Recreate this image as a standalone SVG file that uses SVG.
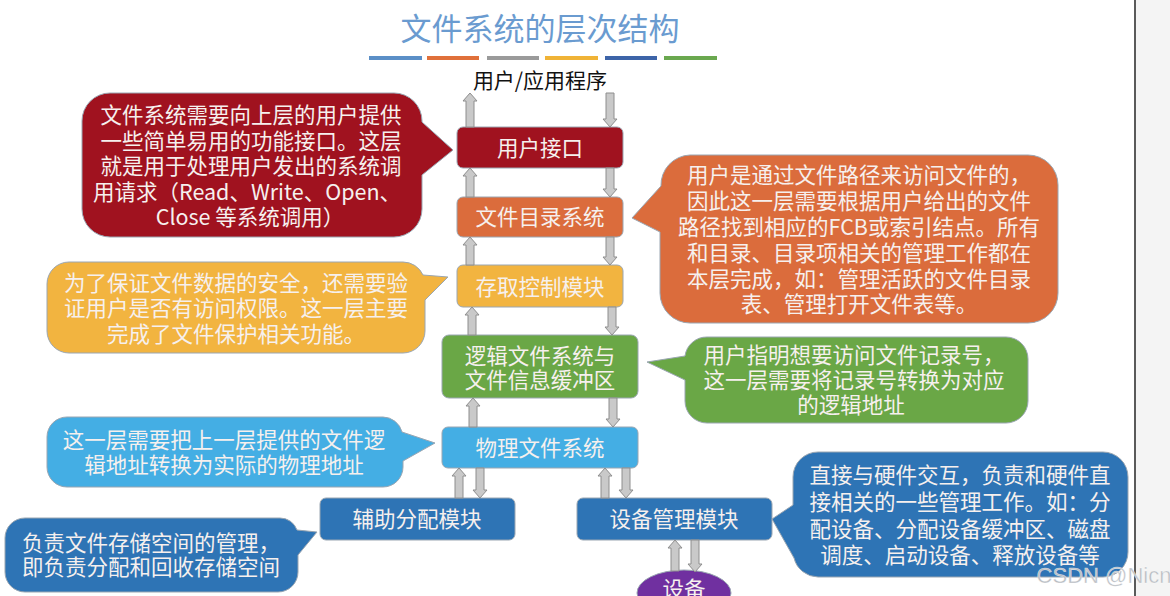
<svg xmlns="http://www.w3.org/2000/svg" width="1170" height="596" viewBox="0 0 1170 596">
<style>
text{font-family:"Noto Sans CJK SC","Noto Sans",sans-serif;font-size:21.5px;text-anchor:middle}
.t{fill:#f6f0ee}
.box{stroke:#9aa6b2;stroke-width:1}
.arr{fill:#c9c9c9;stroke:#8e8e8e;stroke-width:1}
</style>
<rect width="1170" height="596" fill="#ffffff"/>
<line x1="1135" y1="0" x2="1135" y2="596" stroke="#5a5a5a" stroke-width="2"/>
<rect x="1136" y="0" width="34" height="596" fill="#f4f4f4"/>

<g id="title">
<text x="540" y="40" style="font-size:31px;fill:#6a9bd0">文件系统的层次结构</text>
<g stroke-width="4">
<line x1="369" y1="58" x2="422" y2="58" stroke="#5b8fc7"/>
<line x1="427" y1="58" x2="479" y2="58" stroke="#e0703a"/>
<line x1="487" y1="58" x2="539" y2="58" stroke="#9a9a9a"/>
<line x1="545" y1="58" x2="598" y2="58" stroke="#f0b336"/>
<line x1="605" y1="58" x2="657" y2="58" stroke="#3d64a8"/>
<line x1="664" y1="58" x2="717" y2="58" stroke="#6aa84f"/>
</g>
</g>

<g id="app"><text x="540" y="88" style="font-size:21px;fill:#111">用户/应用程序</text></g>

<g id="n-ui"><rect class="box" x="457" y="127" width="166" height="41" rx="6" fill="#a0121f"/><text class="t" x="540" y="156">用户接口</text></g>
<g id="n-dir"><rect class="box" x="457" y="197" width="166" height="40" rx="6" fill="#db6c3c"/><text class="t" x="540" y="225">文件目录系统</text></g>
<g id="n-acc"><rect class="box" x="457" y="265" width="166" height="42" rx="6" fill="#f2b440"/><text class="t" x="540" y="295">存取控制模块</text></g>
<g id="n-log"><rect class="box" x="442" y="335" width="196" height="63" rx="7" fill="#6aa746"/><text class="t" x="540" y="364">逻辑文件系统与</text><text class="t" x="540" y="388">文件信息缓冲区</text></g>
<g id="n-phy"><rect class="box" x="442" y="427" width="196" height="41" rx="6" fill="#44aee4"/><text class="t" x="540" y="456">物理文件系统</text></g>
<g id="n-aux"><rect class="box" x="320" y="498" width="195" height="42" rx="6" fill="#2e74b5"/><text class="t" x="417" y="527">辅助分配模块</text></g>
<g id="n-dev"><rect class="box" x="577" y="498" width="195" height="42" rx="6" fill="#2e74b5"/><text class="t" x="674" y="527">设备管理模块</text></g>
<g id="n-hw"><ellipse cx="684" cy="593" rx="47" ry="23" fill="#7030a0" stroke="#9aa6b2"/><text class="t" x="684" y="597">设备</text></g>

<g id="c-red"><path class="box" fill="#a0121f" d="M110,93 H394 A28,28 0 0 1 422,121 V122 L453,150 L422,175 V209 A28,28 0 0 1 394,237 H110 A28,28 0 0 1 82,209 V121 A28,28 0 0 1 110,93 Z"/>
<text class="t" x="251" y="123">文件系统需要向上层的用户提供</text>
<text class="t" x="251" y="148.5">一些简单易用的功能接口。这层</text>
<text class="t" x="251" y="174">就是用于处理用户发出的系统调</text>
<text class="t" x="247" y="199.5">用请求（Read、Write、Open、</text>
<text class="t" x="250" y="225">Close 等系统调用）</text></g>

<g id="c-orange"><path class="box" fill="#db6c3c" d="M690,155 H1028 A30,30 0 0 1 1058,185 V293 A30,30 0 0 1 1028,323 H690 A30,30 0 0 1 660,293 V232 L632,218 L661,186 A30,30 0 0 1 690,155 Z"/>
<text class="t" x="859" y="183">用户是通过文件路径来访问文件的，</text>
<text class="t" x="859" y="209">因此这一层需要根据用户给出的文件</text>
<text class="t" x="859" y="235">路径找到相应的FCB或索引结点。所有</text>
<text class="t" x="859" y="261">和目录、目录项相关的管理工作都在</text>
<text class="t" x="859" y="287">本层完成，如：管理活跃的文件目录</text>
<text class="t" x="859" y="312">表、管理打开文件表等。</text></g>

<g id="c-yellow"><path class="box" fill="#f2b440" d="M69,262 H403 A22,22 0 0 1 423,275 L448,277 L425,300 V331 A22,22 0 0 1 403,353 H69 A22,22 0 0 1 47,331 V284 A22,22 0 0 1 69,262 Z"/>
<text class="t" x="236" y="291">为了保证文件数据的安全，还需要验</text>
<text class="t" x="236" y="316">证用户是否有访问权限。这一层主要</text>
<text class="t" x="236" y="342">完成了文件保护相关功能。</text></g>

<g id="c-green"><path class="box" fill="#6aa746" d="M707,337 H1006 A22,22 0 0 1 1028,359 V401 A22,22 0 0 1 1006,423 H707 A22,22 0 0 1 685,401 V380 L647,362 L685,356 A22,22 0 0 1 707,337 Z"/>
<text class="t" x="854" y="363">用户指明想要访问文件记录号，</text>
<text class="t" x="854" y="388">这一层需要将记录号转换为对应</text>
<text class="t" x="851" y="413">的逻辑地址</text></g>

<g id="c-lblue"><path class="box" fill="#44aee4" d="M67,417 H383 A20,20 0 0 1 402,432 L435,443 L403,461 V467 A20,20 0 0 1 383,487 H67 A20,20 0 0 1 47,467 V437 A20,20 0 0 1 67,417 Z"/>
<text class="t" x="224" y="448">这一层需要把上一层提供的文件逻</text>
<text class="t" x="224" y="473">辑地址转换为实际的物理地址</text></g>

<g id="c-alloc"><path class="box" fill="#2e74b5" d="M25,518 H280 A18,18 0 0 1 297,530 L317,532 L298,555 V572 A20,20 0 0 1 278,592 H25 A20,20 0 0 1 5,572 V538 A20,20 0 0 1 25,518 Z"/>
<text class="t" x="151" y="551">负责文件存储空间的管理，</text>
<text class="t" x="151" y="575">即负责分配和回收存储空间</text></g>

<g id="c-dev"><path class="box" fill="#2e74b5" d="M818,452 H1103 A25,25 0 0 1 1128,477 V552 A25,25 0 0 1 1103,577 H818 A25,25 0 0 1 794,558 L772,519 L793,505 V477 A25,25 0 0 1 818,452 Z"/>
<text class="t" x="960" y="483">直接与硬件交互，负责和硬件直</text>
<text class="t" x="960" y="510">接相关的一些管理工作。如：分</text>
<text class="t" x="960" y="537">配设备、分配设备缓冲区、磁盘</text>
<text class="t" x="960" y="563">调度、启动设备、释放设备等</text></g>

<g id="connectors">
<path class="arr" d="M470,93 L477,101 H474 V127 H466 V101 H463 Z"/>
<path class="arr" d="M606,93 H614 V119 H617 L610,127 L603,119 H606 Z"/>
<path class="arr" d="M470,168 L477,176 H474 V197 H466 V176 H463 Z"/>
<path class="arr" d="M606,168 H614 V189 H617 L610,197 L603,189 H606 Z"/>
<path class="arr" d="M470,237 L477,245 H474 V265 H466 V245 H463 Z"/>
<path class="arr" d="M606,237 H614 V257 H617 L610,265 L603,257 H606 Z"/>
<path class="arr" d="M472,307 L479,315 H476 V335 H468 V315 H465 Z"/>
<path class="arr" d="M608,307 H616 V327 H619 L612,335 L605,327 H608 Z"/>
<path class="arr" d="M473,398 L480,406 H477 V427 H469 V406 H466 Z"/>
<path class="arr" d="M609,398 H617 V419 H620 L613,427 L606,419 H609 Z"/>
<path class="arr" d="M459,468 L466,476 H463 V498 H455 V476 H452 Z"/>
<path class="arr" d="M476,468 H484 V490 H487 L480,498 L473,490 H476 Z"/>
<path class="arr" d="M605,468 L612,476 H609 V498 H601 V476 H598 Z"/>
<path class="arr" d="M622,468 H630 V490 H633 L626,498 L619,490 H622 Z"/>
<path class="arr" d="M675,540 L682,548 H679 V571 H671 V548 H668 Z"/>
<path class="arr" d="M691,540 H699 V564 H702 L695,572 L688,564 H691 Z"/>
</g>

<text x="1104" y="583" style="font-family:'Liberation Sans',sans-serif;font-size:22px;fill:#b8bcc2;stroke:#ffffff;stroke-width:0.6;stroke-opacity:0.6">CSDN @Nicn</text>
</svg>
